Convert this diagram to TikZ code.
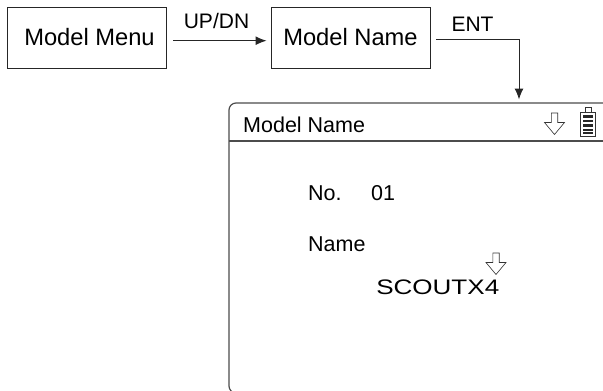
\documentclass[tikz,border=0pt]{standalone}
\usepackage{fontspec}
\setmainfont{Liberation Sans}
\usetikzlibrary{positioning,arrows.meta}
\tikzset{
  keybox/.style={draw=black!85, line width=1pt, minimum width=159pt, minimum height=61pt, inner sep=0pt, font=\fontsize{23.7}{26}\selectfont},
  keylabel/.style={inner sep=0pt, font=\fontsize{21}{24}\selectfont},
  screentext/.style={inner sep=0pt, anchor=base west, font=\fontsize{21.5}{24}\selectfont},
  link/.style={draw=black!85, line width=1pt, -{Latex[length=11pt,width=9pt]}},
  icon/.style={draw=black!80, line width=0.6pt}
}
\newcommand{\downicon}[2]{%
  \draw[icon] (#1-3.2,#2) -- (#1+3.2,#2) -- (#1+3.2,#2+9.5) -- (#1+10,#2+9.5) -- (#1,#2+21.5) -- (#1-10,#2+9.5) -- (#1-3.2,#2+9.5) -- cycle;
}
\begin{document}
\begin{tikzpicture}[x=1pt,y=-1pt]
    \useasboundingbox (0,0) rectangle (603,391);
    \clip (0,0) rectangle (603,391);

    \node[keybox] (menu) at (86.5,37.5) {\hspace*{6pt}Model Menu};
    \node[keybox] (name) at (350.5,37.5) {Model Name};

    \coordinate (menuout) at (173,40.7);
    \coordinate (namein) at (266.5,40.7);
    \coordinate (nameout) at (436,39.5);
    \coordinate (bend) at (519,39.5);
    \coordinate (screenin) at (519,99.5);

    \draw[link] (menuout) -- (namein);
    \draw[link] (nameout) -- (bend) -- (screenin);
    \node[keylabel] (updn) at (216.5,20.5) {UP/DN};
    \node[keylabel] (ent) at (472.5,24) {ENT};

    % screen, runs off the page on the right and at the bottom
    \draw[draw=black!70, line width=1.2pt, rounded corners=7pt] (229,103) rectangle (640,393);
    \draw[draw=black!70, line width=1.2pt] (229,141) -- (603,141);

    \node[screentext] (title) at (243,132) {Model Name};
    \node[screentext] (no) at (308,200) {No.};
    \node[screentext] (num) at (371,200) {01};
    \node[screentext] (field) at (308,251) {Name};
    \node[inner sep=0pt, anchor=base west, xscale=1.24, font=\fontsize{21}{24}\selectfont] (value) at (376,294) {SCOUTX4};

    \downicon{554.5}{113}
    \downicon{496}{253}

    % battery
    \draw[icon, line width=1pt] (585,112) rectangle (591,107);
    \draw[icon, line width=1pt] (580.5,112) rectangle (595,136);
    \foreach \y in {115,119.5,124,128.5} {
      \fill[black!85] (583,\y) rectangle (592.5,\y+2.6);
    }
    \fill[black!85] (583,131.5) rectangle (592.5,134);
\end{tikzpicture}
\end{document}
